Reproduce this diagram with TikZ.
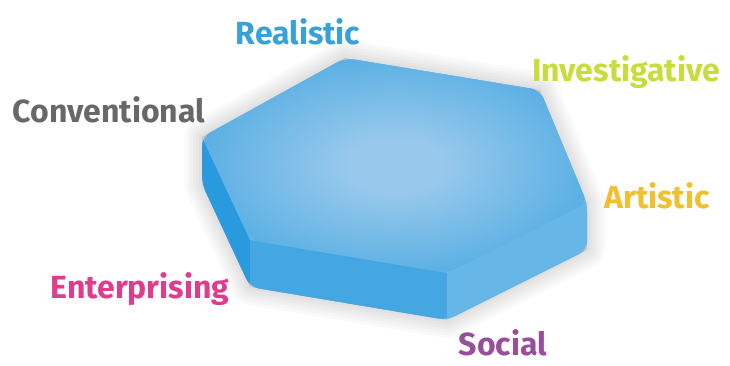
\documentclass[tikz,border=0pt]{standalone}
\usepackage{fontspec}
\setmainfont{Fira Sans}
\definecolor{topC}{HTML}{98C9EC}
\definecolor{topE}{HTML}{3AA2E0}
\definecolor{leftc}{HTML}{2A9ADE}
\definecolor{flc}{HTML}{44A7E2}
\definecolor{frc}{HTML}{66B7E7}
\definecolor{cReal}{HTML}{38A1D8}
\definecolor{cConv}{HTML}{686868}
\definecolor{cInv}{HTML}{C8DC3A}
\definecolor{cArt}{HTML}{F1C02E}
\definecolor{cEnt}{HTML}{E03C8E}
\definecolor{cSoc}{HTML}{994E9C}
\pgfdeclareradialshading{topshade}{\pgfpoint{0bp}{0bp}}{color(0bp)=(topC); color(6bp)=(topC); color(36bp)=(topE); color(70bp)=(topE)}
\tikzset{
  lab/.style={font=\fontsize{32}{35}\selectfont\bfseries, inner sep=0pt, anchor=center},
  shadowring/.style={draw=black, fill=black, opacity=0.02, line join=round}
}
\begin{document}
\begin{tikzpicture}[x=1pt,y=-1pt]
\useasboundingbox (0,0) rectangle (730,366);
\coordinate (T1) at (345,58);
\coordinate (T2) at (540,90);
\coordinate (T3) at (587,203);
\coordinate (T4) at (447,273);
\coordinate (T5) at (250,240);
\coordinate (T6) at (202,137);
\coordinate (B3) at (587,250);
\coordinate (B4) at (447,320);
\coordinate (B5) at (250,287);
\coordinate (B6) at (202,184);
% soft shadow
\begin{scope}[shift={(-8,12)}]
\foreach \w in {36,30,24,18,12,6}
  \path[shadowring, line width=\w] (T6)--(T1)--(T2)--(T3)--(B3)--(B4)--(B5)--(B6)--cycle;
\end{scope}
% body
\begin{scope}
\clip[rounded corners=9] (T6)--(T1)--(T2)--(T3)--(B3)--(B4)--(B5)--(B6)--cycle;
\fill[frc] (0,0) rectangle (730,366);
\fill[leftc] (T6)--(T5)--(B5)--(B6)--(150,184)--(150,137)--cycle;
\fill[flc] (T5)--(T4)--(B4)--(B5)--cycle;
\fill[frc] (T4)--(T3)--(B3)--(B4)--cycle;
\end{scope}
\shade[shading=topshade, rounded corners=9] (T1)--(T2)--(T3)--(T4)--(T5)--(T6)--cycle;
% labels
\node[lab, text=cReal] (real) at (298,32) {Realistic};
\node[lab, text=cConv] (conv) at (109,110) {Conventional};
\node[lab, text=cInv] (inv) at (626,72) {Investigative};
\node[lab, text=cArt] (art) at (657,196) {Artistic};
\node[lab, text=cEnt] (ent) at (140,289) {Enterprising};
\node[lab, text=cSoc] (soc) at (503,343) {Social};
\end{tikzpicture}
\end{document}
